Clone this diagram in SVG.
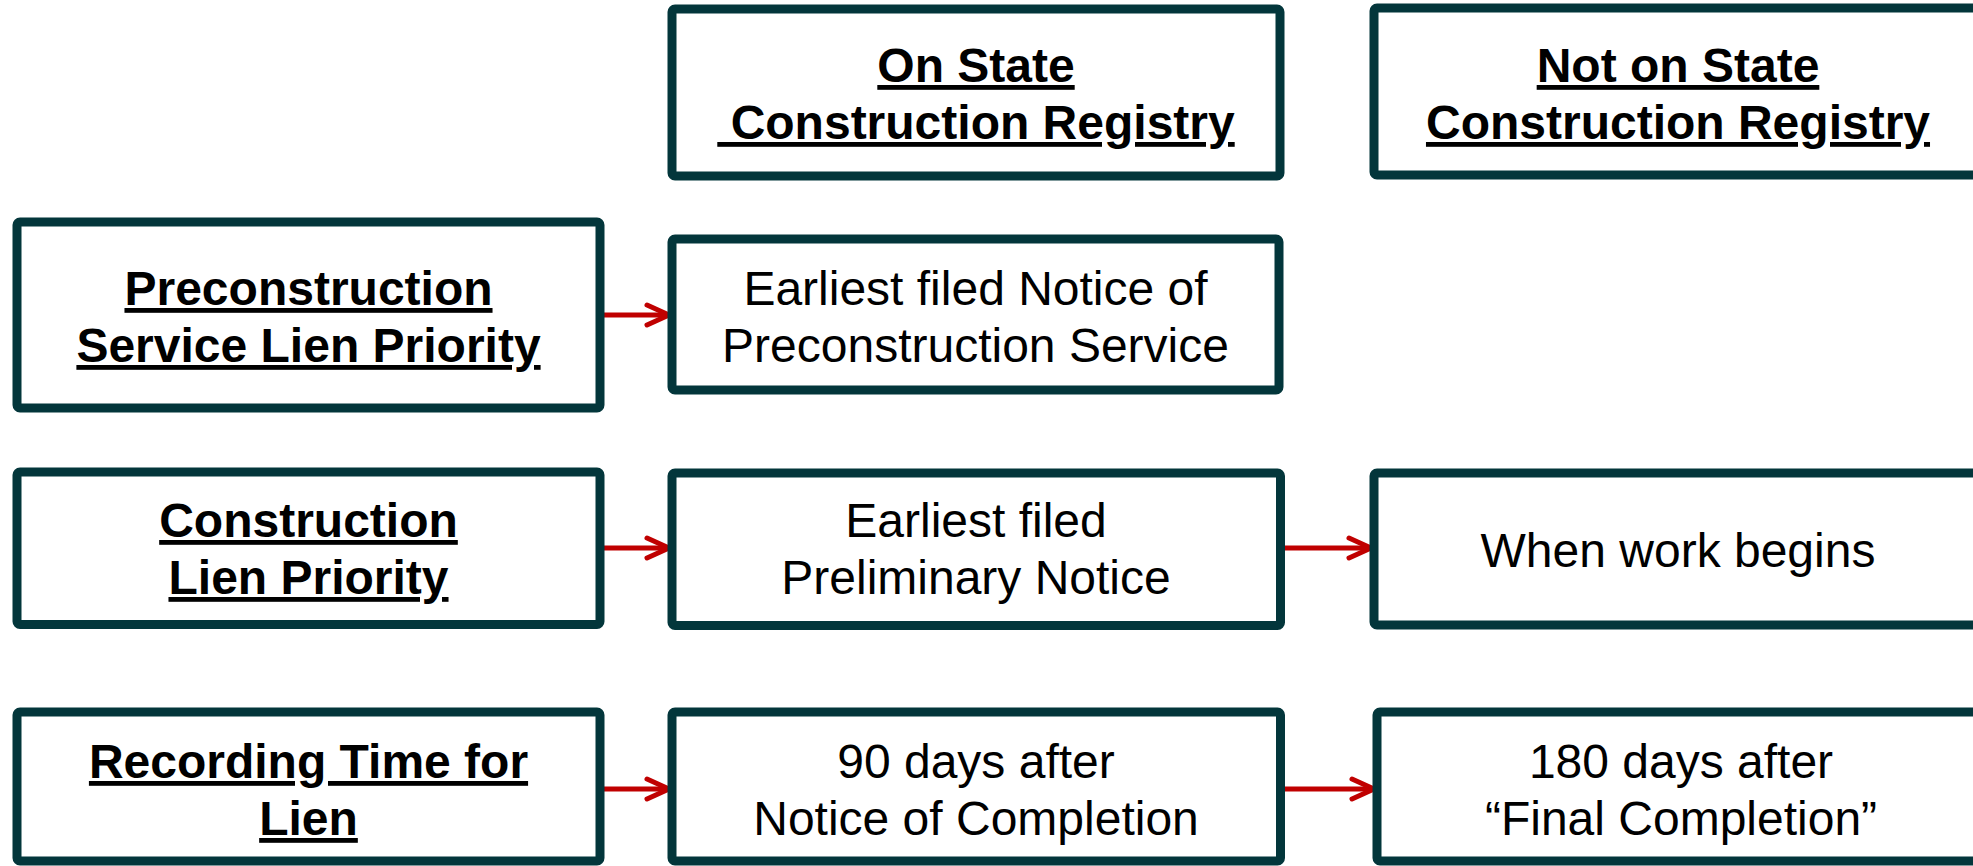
<svg xmlns="http://www.w3.org/2000/svg" width="1973" height="866" viewBox="0 0 1973 866">
<style>
.box{fill:#fff;stroke:#03363B;stroke-width:9;}
.t{font-family:"Liberation Sans",Arial,sans-serif;font-size:48px;fill:#000;text-anchor:middle;}
.b{font-weight:bold;text-decoration:underline;text-decoration-skip-ink:none;text-decoration-thickness:4px;}
.con{stroke:#C00000;stroke-width:5;fill:none;}
</style>
<defs>
<marker id="arr" markerUnits="userSpaceOnUse" markerWidth="30" markerHeight="26" refX="24" refY="12" orient="auto" overflow="visible">
<path d="M2,2 L24,12 L2,22" fill="none" stroke="#C00000" stroke-width="5" stroke-linecap="round" stroke-linejoin="round"/>
</marker>
</defs>
<rect width="1973" height="866" fill="#fff"/>
<g id="connectors">
<line class="con" x1="604" y1="315" x2="669" y2="315" marker-end="url(#arr)"/>
<line class="con" x1="604" y1="548" x2="669" y2="548" marker-end="url(#arr)"/>
<line class="con" x1="1284" y1="548" x2="1371" y2="548" marker-end="url(#arr)"/>
<line class="con" x1="604" y1="789" x2="669" y2="789" marker-end="url(#arr)"/>
<line class="con" x1="1284" y1="789" x2="1374" y2="789" marker-end="url(#arr)"/>
</g>
<g id="header-on">
<rect class="box" x="672" y="9" width="608" height="167" rx="3"/>
<text class="t b" x="976" y="82">On State</text>
<text class="t b" x="976" y="139" style="white-space:pre"> Construction Registry</text>
</g>
<g id="header-not">
<rect class="box" x="1374" y="8" width="610" height="167" rx="3"/>
<text class="t b" x="1678" y="82">Not on State</text>
<text class="t b" x="1678" y="139">Construction Registry</text>
</g>
<g id="row1-label">
<rect class="box" x="17" y="222" width="583" height="186" rx="3"/>
<text class="t b" x="308.5" y="305">Preconstruction</text>
<text class="t b" x="308.5" y="362">Service Lien Priority</text>
</g>
<g id="row1-on">
<rect class="box" x="672" y="239" width="607" height="151" rx="3"/>
<text class="t" x="975.5" y="305">Earliest filed Notice of</text>
<text class="t" x="975.5" y="362">Preconstruction Service</text>
</g>
<g id="row2-label">
<rect class="box" x="17" y="472" width="583" height="152.5" rx="3"/>
<text class="t b" x="308.5" y="537">Construction</text>
<text class="t b" x="308.5" y="594">Lien Priority</text>
</g>
<g id="row2-on">
<rect class="box" x="672" y="473" width="608.5" height="152.5" rx="3"/>
<text class="t" x="976" y="537">Earliest filed</text>
<text class="t" x="976" y="594">Preliminary Notice</text>
</g>
<g id="row2-not">
<rect class="box" x="1374" y="473" width="610" height="152" rx="3"/>
<text class="t" x="1678" y="567">When work begins</text>
</g>
<g id="row3-label">
<rect class="box" x="17" y="712" width="583" height="149" rx="3"/>
<text class="t b" x="308.5" y="778">Recording Time for</text>
<text class="t b" x="308.5" y="835">Lien</text>
</g>
<g id="row3-on">
<rect class="box" x="672" y="712" width="608.5" height="149" rx="3"/>
<text class="t" x="976" y="778">90 days after</text>
<text class="t" x="976" y="835">Notice of Completion</text>
</g>
<g id="row3-not">
<rect class="box" x="1377" y="712" width="610" height="149" rx="3"/>
<text class="t" x="1681" y="778">180 days after</text>
<text class="t" x="1681" y="835">“Final Completion”</text>
</g>
</svg>
